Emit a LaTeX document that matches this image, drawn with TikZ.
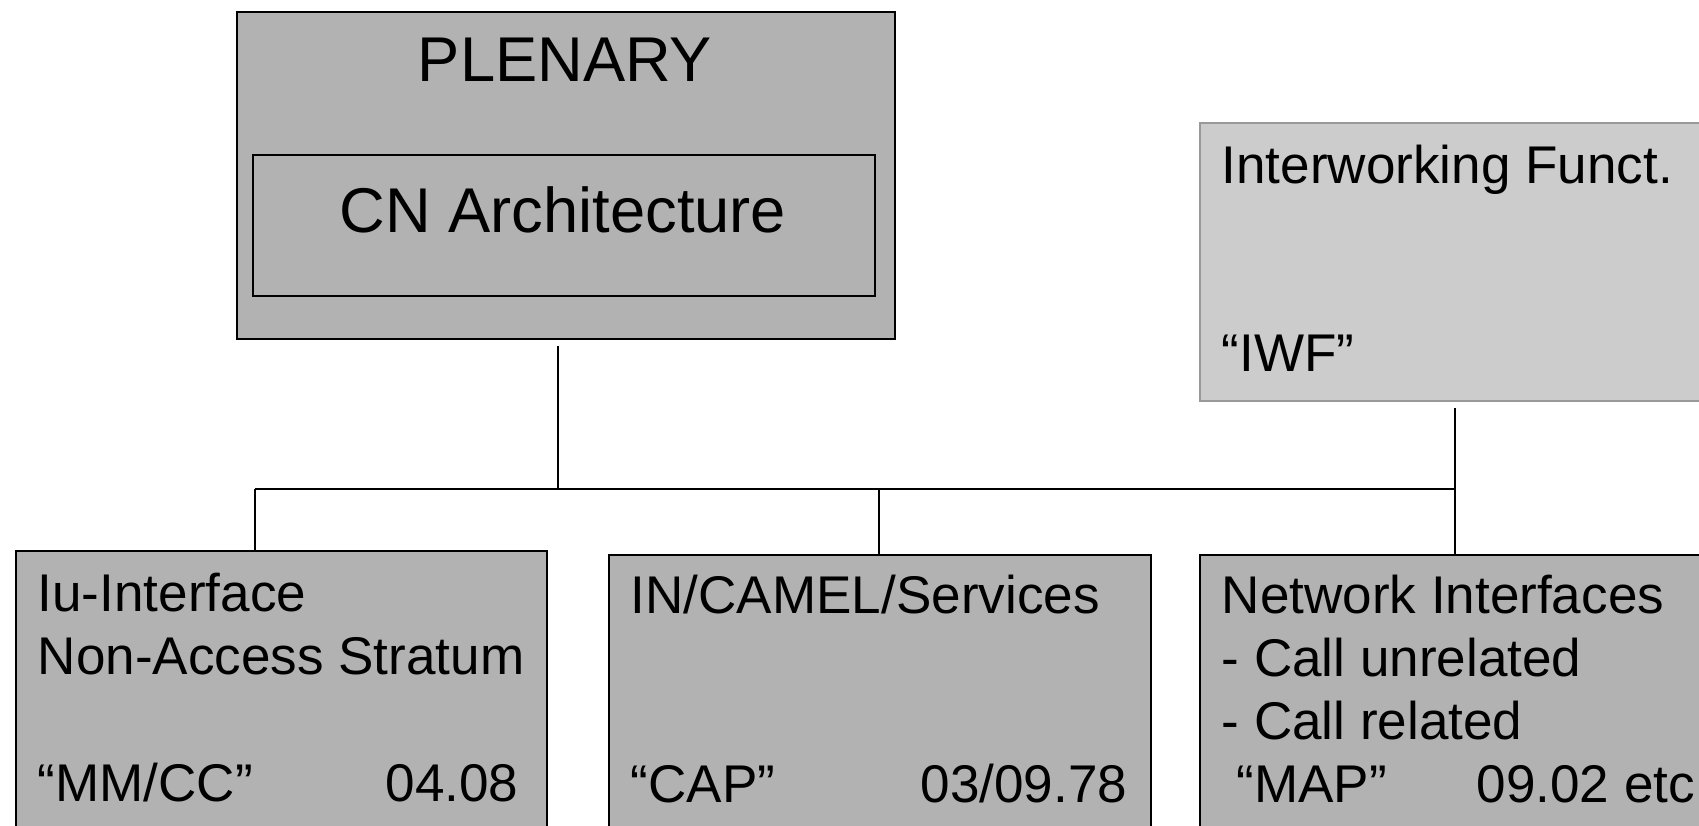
\documentclass[tikz,border=0pt]{standalone}
\usepackage{fontspec}
\setmainfont{Liberation Sans}
\usetikzlibrary{calc}

\definecolor{boxgray}{HTML}{B2B2B2}
\definecolor{iwfgray}{HTML}{CCCCCC}
\definecolor{iwfedge}{HTML}{999999}

\tikzset{
  box/.style={draw=black, fill=boxgray, line width=0.6pt, inner sep=0pt, anchor=north west},
  big/.style={inner sep=0pt, anchor=base, font=\fontsize{18}{22}\selectfont},
  lbl/.style={inner sep=0pt, anchor=base west, font=\fontsize{15.1}{18}\selectfont},
  num/.style={inner sep=0pt, anchor=base east, font=\fontsize{15.1}{18}\selectfont},
}

\begin{document}
\begin{tikzpicture}

\clip (0,0) rectangle (16.99,8.26);
\fill[white] (0,0) rectangle (16.99,8.26);

\node[box, minimum width=6.58cm, minimum height=3.27cm] (plenary) at (2.36,8.15) {};
\node[box, minimum width=6.22cm, minimum height=1.41cm] (cnarch) at (2.52,6.72) {};
\node[big] (plenarytxt) at (5.65,7.44) {PLENARY};
\node[big] (cnarchtxt) at (5.63,5.93) {CN Architecture};

\node[box, draw=iwfedge, fill=iwfgray, minimum width=5.4cm, minimum height=2.78cm] (iwf) at (11.99,7.04) {};
\node[lbl] (iwf1) at (12.21,6.42) {Interworking Funct.};
\node[lbl] (iwf2) at (12.21,4.54) {“IWF”};

\node[box, minimum width=5.31cm, minimum height=3.2cm] (iu) at (0.15,2.76) {};
\node[lbl] (iu1) at (0.37,2.14) {Iu-Interface};
\node[lbl] (iu2) at (0.37,1.51) {Non-Access Stratum};
\node[lbl] (iu3) at (0.37,0.24) {“MM/CC”};
\node[num] (iu4) at (5.19,0.24) {04.08};

\node[box, minimum width=5.42cm, minimum height=3.2cm] (camel) at (6.08,2.72) {};
\node[lbl] (camel1) at (6.30,2.12) {IN/CAMEL/Services};
\node[lbl] (camel2) at (6.30,0.23) {“CAP”};
\node[num] (camel3) at (11.28,0.23) {03/09.78};

\node[box, minimum width=5.4cm, minimum height=3.2cm] (netif) at (11.99,2.72) {};
\node[lbl] (netif1) at (12.21,2.12) {Network Interfaces};
\node[lbl] (netif2) at (12.21,1.49) {- Call unrelated};
\node[lbl] (netif3) at (12.21,0.86) {- Call related};
\node[lbl] (netif4) at (12.36,0.23) {“MAP”};
\node[lbl] (netif5) at (14.76,0.23) {09.02 etc};

\coordinate (plenaryfoot) at (5.58,4.80);
\coordinate (iwffoot) at (14.55,4.18);
\coordinate (busP) at (5.58,3.37);
\coordinate (bus1) at (2.55,3.37);
\coordinate (bus2) at (8.79,3.37);
\coordinate (bus3) at (14.55,3.37);

\draw[line width=0.6pt] (bus1)--(bus3);
\draw[line width=0.6pt] (plenaryfoot)--(busP);
\draw[line width=0.6pt] (iwffoot)--(bus3);
\draw[line width=0.6pt] (bus1)--(bus1 |- iu.north);
\draw[line width=0.6pt] (bus2)--(bus2 |- camel.north);
\draw[line width=0.6pt] (bus3)--(bus3 |- netif.north);

\end{tikzpicture}
\end{document}
